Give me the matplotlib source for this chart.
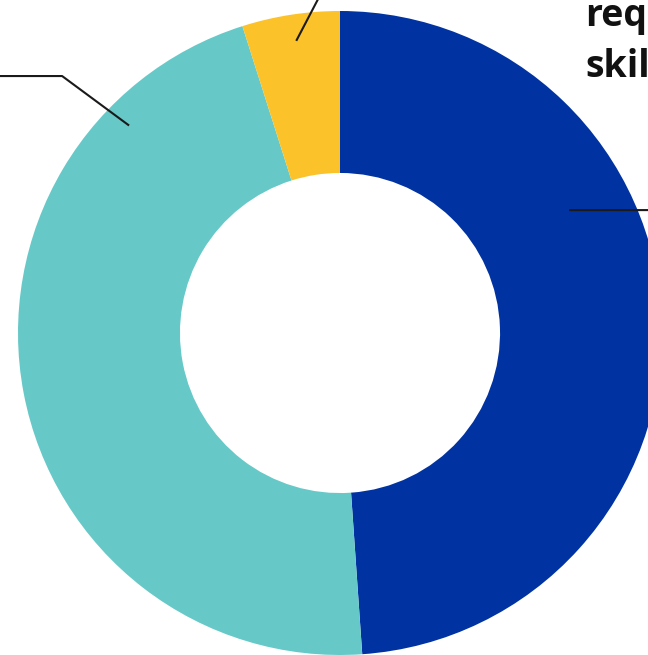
"""
Donut chart of skills share (cropped view).
"""
import numpy as np
import matplotlib.pyplot as plt

labels = ["require\nskills", "other", "some"]
shares = [48.9, 46.2, 4.9]
colors = ["#0033a1", "#66c9c8", "#fcc22a"]

# leader-line anchors (angle in degrees, radius) and their elbow / end points
anchors = [(28.1, 0.81), (135.5, 0.922), (98.4, 0.92)]
elbows = [(1.3, 0.382), (-0.863, 0.798), (-0.03, 1.11)]
ends = [(1.3, 0.382), (-1.3, 0.798), (-0.03, 1.11)]

R = 322.0  # px per data unit
W, H = 648, 655
cx, cy = 340, 333

fig = plt.figure(figsize=(W / 100, H / 100), dpi=100)
ax = fig.add_axes([0, 0, 1, 1])
ax.set_aspect("equal")
ax.axis("off")

ax.pie(
    shares,
    colors=colors,
    startangle=90,
    counterclock=False,
    radius=1.0,
    wedgeprops=dict(width=0.503, linewidth=0),
)
ax.set_xlim(-cx / R, (W - cx) / R)
ax.set_ylim(-(H - cy) / R, cy / R)

for (ang, r), (ex, ey), (fx, fy) in zip(anchors, elbows, ends):
    a = np.deg2rad(ang)
    x0, y0 = r * np.cos(a), r * np.sin(a)
    ax.plot([x0, ex, fx], [y0, ey, fy], color="#1a1a1a", lw=1.5, clip_on=False)

ax.text(
    (585 - cx) / R,
    cy / R + 0.01,
    labels[0],
    ha="left",
    va="top",
    fontsize=27,
    family="Open Sans",
    fontweight="bold",
    color="#111111",
    linespacing=1.45,
)

fig.savefig("out.png", dpi=100)
